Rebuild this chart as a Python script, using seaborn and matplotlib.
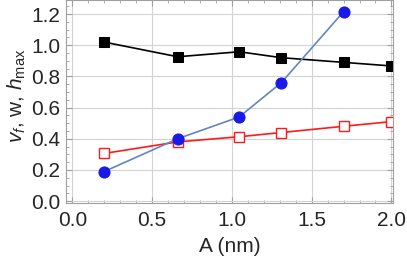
import numpy as np
import pandas as pd
import matplotlib
matplotlib.use("Agg")
import matplotlib.pyplot as plt
from matplotlib.ticker import MultipleLocator
import seaborn as sns

A_black = [0.2, 0.66, 1.046, 1.31, 1.70, 2.0]
h_max = [1.02, 0.926, 0.958, 0.92, 0.89, 0.867]

A_blue = [0.2, 0.66, 1.046, 1.31, 1.70]
v_f = [0.19, 0.40, 0.54, 0.76, 1.215]

A_red = [0.2, 0.66, 1.046, 1.31, 1.70, 2.0]
w = [0.306, 0.38, 0.413, 0.44, 0.48, 0.51]

sns.set_style("ticks")
plt.rcParams['font.family'] = ['Liberation Sans', 'DejaVu Sans']
plt.rcParams['mathtext.fontset'] = 'custom'
plt.rcParams['mathtext.rm'] = 'Liberation Sans'
plt.rcParams['mathtext.it'] = 'Liberation Sans:italic'

fig = plt.figure(figsize=(4.07, 2.66), dpi=100)
ax = fig.add_axes([66 / 407, 1 - 203 / 266, (393 - 66) / 407, 203 / 266])

sns.lineplot(x=A_black, y=h_max, ax=ax, color='black', lw=1.2, marker='s',
             markersize=7.5, markerfacecolor='black', markeredgecolor='black')
sns.lineplot(x=A_red, y=w, ax=ax, color='#FF1A1A', lw=1.2, marker='s',
             markersize=6.5, markerfacecolor='white', markeredgecolor='#FF1A1A',
             markeredgewidth=1.0)
sns.lineplot(x=A_blue, y=v_f, ax=ax, color='#6186C0', lw=1.2, marker='o',
             markersize=8, markerfacecolor='#1A1AE6', markeredgecolor='#1A1AE6')

ax.set_xlim(-0.04, 2.01)
ax.set_ylim(-0.012, 1.29)
ax.xaxis.set_major_locator(MultipleLocator(0.5))
ax.xaxis.set_minor_locator(MultipleLocator(0.1))
ax.yaxis.set_major_locator(MultipleLocator(0.2))
ax.yaxis.set_minor_locator(MultipleLocator(0.05))
ax.xaxis.set_major_formatter(matplotlib.ticker.FormatStrFormatter('%.1f'))
ax.yaxis.set_major_formatter(matplotlib.ticker.FormatStrFormatter('%.1f'))

ax.grid(True, which='major', color='#D3D3D3', lw=0.8)
ax.set_axisbelow(True)
for s in ax.spines.values():
    s.set_color('#A0A0A0')
    s.set_linewidth(0.8)
ax.tick_params(which='both', direction='in', top=True, right=True,
               color='#A0A0A0', labelsize=15)
ax.tick_params(axis='x', pad=6)
ax.tick_params(axis='y', pad=4)
ax.tick_params(which='major', length=4)
ax.tick_params(which='minor', length=2.5)

ax.set_xlabel('A (nm)', fontsize=15, labelpad=5)
ax.set_ylabel(r'$v_f$, w, $h_{\rm max}$', fontsize=15, labelpad=2)
ax.yaxis.set_label_coords(-0.115, 0.53)

fig.savefig('out.png', dpi=100)
